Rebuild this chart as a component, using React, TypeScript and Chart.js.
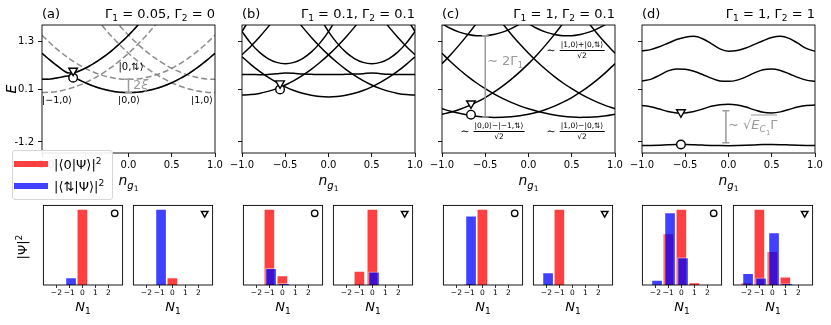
import React, { useEffect, useRef } from "react";
import { Chart, registerables } from "chart.js";

Chart.register(...registerables);

const FONT = "'DejaVu Sans', sans-serif";
Chart.defaults.font.family = FONT;

const _ = null;

// ---------- axes ----------
const X_TICKS = [-1, -0.5, 0, 0.5, 1];
const E_TICKS = [-1.2, 0.1, 1.3];
const E_MIN = -1.474;
const E_MAX = 1.713;
const N1_TICKS = [-2, -1, 0, 1, 2];
const N1_MIN = -3;
const N1_MAX = 3.1;

// ---------- n_g1 grids ----------
const NG = [-1, -0.9, -0.8, -0.7, -0.6, -0.5, -0.4, -0.3, -0.2, -0.1, 0, 0.1, 0.2, 0.3, 0.4, 0.5, 0.6, 0.7, 0.8, 0.9, 1];
const NG_A = [-1, -0.9, -0.8, -0.7, -0.66, -0.6, -0.5, -0.4, -0.3, -0.2, -0.1, 0, 0.1, 0.2, 0.3, 0.4, 0.5, 0.6, 0.7, 0.8, 0.9, 1];

// ---------- panel (a) ----------
const A_LOW = [0.36, 0.371, 0.404, 0.445, 0.43, 0.375, 0.275, 0.187, 0.118, 0.069, 0.04, 0.03, 0.04, 0.069, 0.118, 0.187, 0.275, 0.383, 0.51, 0.657, 0.824, 1.01];
const A_HIGH = [1.01, 0.824, 0.657, 0.525, 0.52, 0.545, 0.635, 0.756, 0.899, 1.064, 1.251, 1.46, 1.691, 1.944, _, _, _, _, _, _, _, _];
const A_M1_0 = [0.03, 0.04, 0.069, 0.118, 0.143, 0.187, 0.275, 0.383, 0.51, 0.657, 0.824, 1.01, 1.216, 1.441, 1.686, 1.951, 2.235, _, _, _, _, _];
const A_0_0 = [1.01, 0.824, 0.657, 0.51, 0.457, 0.383, 0.275, 0.187, 0.118, 0.069, 0.04, 0.03, 0.04, 0.069, 0.118, 0.187, 0.275, 0.383, 0.51, 0.657, 0.824, 1.01];
const A_P1_0 = [_, _, _, _, _, _, 2.235, 1.951, 1.686, 1.441, 1.216, 1.01, 0.824, 0.657, 0.51, 0.383, 0.275, 0.187, 0.118, 0.069, 0.04, 0.03];
const A_M1_U = [0.36, 0.371, 0.404, 0.459, 0.487, 0.536, 0.635, 0.756, 0.899, 1.064, 1.251, 1.46, 1.691, 1.944, 2.219, _, _, _, _, _, _, _];
const A_0_U = [1.46, 1.251, 1.064, 0.899, 0.839, 0.756, 0.635, 0.536, 0.459, 0.404, 0.371, 0.36, 0.371, 0.404, 0.459, 0.536, 0.635, 0.756, 0.899, 1.064, 1.251, 1.46];
const A_P1_U = [_, _, _, _, _, _, _, _, 2.219, 1.944, 1.691, 1.46, 1.251, 1.064, 0.899, 0.756, 0.635, 0.536, 0.459, 0.404, 0.371, 0.36];

// ---------- panel (b) ----------
const B_PM2 = [0.97, 1.18, 1.41, 1.66, 1.93, 2.22, _, _, _, _, _, _, _, _, _, _, _, _, _, _, _];
const B_PM1 = [-0.03, -0.02, 0.01, 0.06, 0.13, 0.22, 0.33, 0.46, 0.61, 0.78, 0.97, 1.18, 1.41, 1.66, 1.93, 2.22, _, _, _, _, _];
const B_P0 = [0.923, 0.733, 0.563, 0.413, 0.283, 0.173, 0.083, 0.013, -0.037, -0.067, -0.077, -0.067, -0.037, 0.013, 0.083, 0.173, 0.283, 0.413, 0.563, 0.733, 0.923];
const B_P1 = [_, _, _, _, _, 2.22, 1.93, 1.66, 1.41, 1.18, 0.97, 0.78, 0.61, 0.46, 0.33, 0.22, 0.13, 0.06, 0.01, -0.02, -0.03];
const B_P2 = [_, _, _, _, _, _, _, _, _, _, _, _, _, _, _, 2.22, 1.93, 1.66, 1.41, 1.18, 0.97];
const B_SM15 = [1.55, 1.902, _, _, _, _, _, _, _, _, _, _, _, _, _, _, _, _, _, _, _];
const B_SM05 = [1.55, 1.262, 1.038, 0.878, 0.782, 0.75, 0.782, 0.878, 1.038, 1.262, 1.55, 1.902, _, _, _, _, _, _, _, _, _];
const B_SP05 = [_, _, _, _, _, _, _, _, _, 1.902, 1.55, 1.262, 1.038, 0.878, 0.782, 0.75, 0.782, 0.878, 1.038, 1.262, 1.55];
const B_SP15 = [_, _, _, _, _, _, _, _, _, _, _, _, _, _, _, _, _, _, _, 1.902, 1.55];
const B_FLAT = [0.48, 0.48, 0.475, 0.48, 0.5, 0.52, 0.51, 0.49, 0.485, 0.48, 0.48, 0.48, 0.485, 0.49, 0.5, 0.52, 0.5, 0.485, 0.48, 0.48, 0.48];

// ---------- panel (c) ----------
const C_BM2 = [0.751, 0.975, 1.218, 1.479, 1.76, 2.06, _, _, _, _, _, _, _, _, _, _, _, _, _, _, _];
const C_BM1 = [-0.51, -0.458, -0.391, -0.308, -0.209, -0.093, 0.04, 0.191, 0.36, 0.546, 0.751, 0.975, 1.218, 1.479, 1.76, 2.06, _, _, _, _, _];
const C_B0 = [-0.373, -0.435, -0.485, -0.526, -0.557, -0.577, -0.587, -0.586, -0.574, -0.549, -0.51, -0.458, -0.391, -0.308, -0.209, -0.093, 0.04, 0.191, 0.36, 0.546, 0.751];
const C_B1 = [1.009, 0.798, 0.605, 0.429, 0.269, 0.126, -0.002, -0.115, -0.214, -0.3, -0.373, -0.435, -0.485, -0.526, -0.557, -0.577, -0.587, -0.586, -0.574, -0.549, -0.51];
const C_B2 = [_, _, _, _, _, _, 2.03, 1.75, 1.485, 1.238, 1.009, 0.798, 0.605, 0.429, 0.269, 0.126, -0.002, -0.115, -0.214, -0.3, -0.373];
const C_B3 = [_, _, _, _, _, _, _, _, _, _, _, _, _, _, _, _, 2.03, 1.75, 1.485, 1.238, 1.009];
const C_A0 = [1.743, 1.625, 1.535, 1.476, 1.447, 1.447, 1.477, 1.536, 1.624, 1.739, 1.88, _, _, _, _, _, _, _, _, _, _];
const C_A1 = [_, _, _, _, _, _, _, _, _, _, 1.743, 1.625, 1.535, 1.476, 1.447, 1.447, 1.477, 1.536, 1.624, 1.739, 1.88];

// ---------- panel (d) ----------
const D_1 = [-1.29, -1.285, -1.278, -1.268, -1.262, -1.262, -1.268, -1.277, -1.285, -1.29, -1.292, -1.29, -1.284, -1.275, -1.265, -1.262, -1.266, -1.274, -1.282, -1.288, -1.29];
const D_2 = [-0.29, -0.32, -0.38, -0.44, -0.475, -0.475, -0.44, -0.38, -0.31, -0.27, -0.26, -0.28, -0.33, -0.4, -0.46, -0.475, -0.45, -0.39, -0.33, -0.29, -0.28];
const D_3 = [0.32, 0.36, 0.46, 0.57, 0.62, 0.61, 0.56, 0.48, 0.39, 0.32, 0.31, 0.34, 0.42, 0.52, 0.6, 0.615, 0.58, 0.5, 0.41, 0.34, 0.31];
const D_4 = [1.07, 1.1, 1.17, 1.26, 1.35, 1.41, 1.43, 1.37, 1.25, 1.12, 1.06, 1.08, 1.14, 1.23, 1.32, 1.4, 1.43, 1.38, 1.26, 1.13, 1.06];

// ---------- marked states (circle / triangle) ----------
const MARK_N = [-0.64, -0.56, -0.665, -0.55];
const MARK_CIRCLE = [0.4, 0.11, -0.52, -1.262];
const MARK_TRIANGLE = [0.575, 0.26, -0.24, -0.46];

// ---------- gray annotation bars ----------
const ERR_A = { n: 0, lo: 0.03, hi: 0.36 };
const ERR_C = { n: -0.5, lo: -0.577, hi: 1.447 };
const ERR_D = { n: -0.03, lo: -1.22, hi: -0.42 };

// ---------- titles ----------
const PANEL_TAGS = ["(a)", "(b)", "(c)", "(d)"];
const GAMMA1 = ["0.05", "0.1", "1", "1"];
const GAMMA2 = ["0", "0.1", "0.1", "1"];

// ---------- histogram data (N1 = -2..2) ----------
const N1 = [-2, -1, 0, 1, 2];
const BLUE_SHIFT = 0.13;
const RED_A_CIRC = [0, 0, 0.91, 0, 0];
const BLUE_A_CIRC = [0, 0.09, 0, 0, 0];
const RED_A_TRI = [0, 0, 0.09, 0, 0];
const BLUE_A_TRI = [0, 0.91, 0, 0, 0];
const RED_B_CIRC = [0, 0.733, 0.091, 0, 0];
const BLUE_B_CIRC = [0, 0.161, 0.015, 0, 0];
const RED_B_TRI = [0, 0.135, 0.736, 0, 0];
const BLUE_B_TRI = [0, 0, 0.129, 0, 0];
const RED_C_CIRC = [0, 0.005, 0.52, 0, 0];
const BLUE_C_CIRC = [0, 0.475, 0, 0, 0];
const RED_C_TRI = [0, 0.86, 0, 0, 0];
const BLUE_C_TRI = [0.14, 0, 0, 0, 0];
const RED_D_CIRC = [0, 0.22, 0.324, 0.01, 0];
const BLUE_D_CIRC = [0.021, 0.31, 0.117, 0, 0];
const RED_D_TRI = [0.012, 0.394, 0.175, 0.042, 0];
const BLUE_D_TRI = [0.061, 0.037, 0.272, 0.007, 0];

// ---------- layout ----------
const TOP_L = [42, 242, 442, 642];
const TOP_T = 23;
const TOP_W = 173;
const TOP_H = 130;
const YW = 40, PT = 8, PR = 14, XH = 22;
const BAR_L = [42, 132, 242, 332, 442, 532, 641, 732];
const BAR_T = 204;
const BAR_W = 82;
const BAR_H = 81;
const BP = 4, BXH = 20;

const TOP_PANELS = [
  { grid: NG_A, black: [A_LOW, A_HIGH], dashed: [A_M1_0, A_0_0, A_P1_0, A_M1_U, A_0_U, A_P1_U], err: ERR_A },
  { grid: NG, black: [B_PM2, B_PM1, B_P0, B_P1, B_P2, B_SM15, B_SM05, B_SP05, B_SP15, B_FLAT], dashed: [], err: null },
  { grid: NG, black: [C_BM2, C_BM1, C_B0, C_B1, C_B2, C_B3, C_A0, C_A1], dashed: [], err: ERR_C },
  { grid: NG, black: [D_1, D_2, D_3, D_4], dashed: [], err: ERR_D },
];

const BAR_PANELS = [
  { red: RED_A_CIRC, blue: BLUE_A_CIRC, mark: "circle" },
  { red: RED_A_TRI, blue: BLUE_A_TRI, mark: "triangle" },
  { red: RED_B_CIRC, blue: BLUE_B_CIRC, mark: "circle" },
  { red: RED_B_TRI, blue: BLUE_B_TRI, mark: "triangle" },
  { red: RED_C_CIRC, blue: BLUE_C_CIRC, mark: "circle" },
  { red: RED_C_TRI, blue: BLUE_C_TRI, mark: "triangle" },
  { red: RED_D_CIRC, blue: BLUE_D_CIRC, mark: "circle" },
  { red: RED_D_TRI, blue: BLUE_D_TRI, mark: "triangle" },
];

const minus = (s: string) => s.replace("-", "\u2212");

const framePlugin = {
  id: "frame",
  afterDraw(chart: any) {
    const { ctx, chartArea: a } = chart;
    ctx.save();
    ctx.strokeStyle = "#000";
    ctx.lineWidth = 0.9;
    ctx.strokeRect(a.left, a.top, a.right - a.left, a.bottom - a.top);
    ctx.restore();
  },
};

function errPlugin(bar: any) {
  return {
    id: "errbar",
    afterDatasetsDraw(chart: any) {
      if (!bar) return;
      const { ctx, scales } = chart;
      const px = scales.x.getPixelForValue(bar.n);
      const p0 = scales.y.getPixelForValue(bar.lo);
      const p1 = scales.y.getPixelForValue(bar.hi);
      ctx.save();
      ctx.strokeStyle = "#9a9a9a";
      ctx.lineWidth = 1.5;
      ctx.beginPath();
      ctx.moveTo(px, p0); ctx.lineTo(px, p1);
      ctx.moveTo(px - 3.5, p0); ctx.lineTo(px + 3.5, p0);
      ctx.moveTo(px - 3.5, p1); ctx.lineTo(px + 3.5, p1);
      ctx.stroke();
      ctx.restore();
    },
  };
}

function markerSet(x: number, y: number, style: string, r: number) {
  return {
    type: "line",
    data: [{ x, y }],
    showLine: false,
    pointStyle: style,
    pointRotation: style === "triangle" ? 180 : 0,
    pointRadius: r,
    pointBackgroundColor: "#fff",
    pointBorderColor: "#000",
    pointBorderWidth: 1.4,
  };
}

function topConfig(p: any, idx: number) {
  const pts = (arr: any[]) => p.grid.map((x: number, i: number) => ({ x, y: arr[i] }));
  const datasets: any[] = [
    markerSet(MARK_N[idx], MARK_TRIANGLE[idx], "triangle", 5),
    markerSet(MARK_N[idx], MARK_CIRCLE[idx], "circle", 4.3),
    ...p.black.map((arr: any[]) => ({
      data: pts(arr), borderColor: "#000", borderWidth: 1.5, pointRadius: 0,
      cubicInterpolationMode: "monotone", fill: false,
    })),
    ...p.dashed.map((arr: any[]) => ({
      data: pts(arr), borderColor: "rgba(128,128,128,0.9)", borderWidth: 1.5, borderDash: [6, 3],
      pointRadius: 0, cubicInterpolationMode: "monotone", fill: false,
    })),
  ];
  return {
    type: "line",
    data: { datasets },
    options: {
      animation: false,
      responsive: false,
      events: [],
      layout: { padding: { left: 0, right: PR, top: PT, bottom: 0 } },
      plugins: { legend: { display: false }, tooltip: { enabled: false } },
      scales: {
        x: {
          type: "linear", min: -1, max: 1,
          afterBuildTicks: (s: any) => { s.ticks = X_TICKS.map((v) => ({ value: v })); },
          afterFit: (s: any) => { s.height = XH; },
          ticks: {
            autoSkip: false, maxRotation: 0, padding: 2, color: "#000", font: { size: 10 },
            callback: (v: number) => minus(v.toFixed(1)),
          },
          grid: { drawOnChartArea: false, tickLength: 4, color: "#000", tickWidth: 0.9 },
          border: { display: false },
        },
        y: {
          type: "linear", min: E_MIN, max: E_MAX,
          afterBuildTicks: (s: any) => { s.ticks = E_TICKS.map((v) => ({ value: v })); },
          afterFit: (s: any) => { s.width = YW; },
          ticks: {
            autoSkip: false, padding: 4, color: "#000", font: { size: 10 },
            callback: (v: number) => (idx === 0 ? v.toFixed(1) : ""),
          },
          grid: { drawOnChartArea: false, tickLength: 4, color: "#000", tickWidth: 0.9 },
          border: { display: false },
        },
      },
    },
    plugins: [framePlugin, errPlugin(p.err)],
  };
}

function barConfig(p: any) {
  const ymax = 1.05 * Math.max(...p.red, ...p.blue);
  const datasets: any[] = [
    markerSet(N1_MIN + 0.9 * (N1_MAX - N1_MIN), 0.9 * ymax, p.mark, p.mark === "circle" ? 3.2 : 3.8),
    {
      type: "bar",
      data: N1.map((n, i) => ({ x: n + BLUE_SHIFT, y: p.blue[i] || null })),
      backgroundColor: "rgba(0,0,255,0.75)",
      borderColor: "rgba(255,255,255,0.45)",
      borderWidth: 1,
      barThickness: 11,
      grouped: false,
    },
    {
      type: "bar",
      data: N1.map((n, i) => ({ x: n, y: p.red[i] || null })),
      backgroundColor: "rgba(255,0,0,0.75)",
      borderColor: "rgba(255,255,255,0.45)",
      borderWidth: 1,
      barThickness: 11,
      grouped: false,
    },
  ];
  return {
    type: "bar",
    data: { datasets },
    options: {
      animation: false,
      responsive: false,
      events: [],
      layout: { padding: { left: BP, right: BP, top: BP, bottom: 0 } },
      plugins: { legend: { display: false }, tooltip: { enabled: false } },
      scales: {
        x: {
          type: "linear", min: N1_MIN, max: N1_MAX, offset: false,
          afterBuildTicks: (s: any) => { s.ticks = N1_TICKS.map((v) => ({ value: v })); },
          afterFit: (s: any) => { s.height = BXH; },
          ticks: {
            autoSkip: false, maxRotation: 0, padding: 1, color: "#000", font: { size: 7.5 },
            callback: (v: number) => minus(String(v)),
          },
          grid: { drawOnChartArea: false, tickLength: 3, color: "#000", tickWidth: 0.8, offset: false },
          border: { display: false },
        },
        y: { display: false, min: 0, max: ymax },
      },
    },
    plugins: [framePlugin],
  };
}

function ChartBox({ left, top, width, height, make }: any) {
  const ref = useRef<HTMLCanvasElement>(null);
  useEffect(() => {
    const chart = new Chart(ref.current as HTMLCanvasElement, make());
    return () => chart.destroy();
  }, []);
  return (
    <canvas ref={ref} width={width} height={height}
      style={{ position: "absolute", left, top, width, height }} />
  );
}

function Txt({ x, y, a = "c", size = 13, color = "#000", rot = false, italic = false, children }: any) {
  const tx = a === "l" ? "0" : a === "c" ? "-50%" : "-100%";
  return (
    <div style={{
      position: "absolute", left: x, top: y,
      transform: `translate(${tx},-50%)${rot ? " rotate(-90deg)" : ""}`,
      fontSize: size, color, lineHeight: 1, whiteSpace: "nowrap",
      fontStyle: italic ? "italic" : "normal", fontFamily: FONT,
    }}>{children}</div>
  );
}

const Sub = ({ children, s = 0.7 }: any) => (
  <span style={{ fontSize: `${s}em`, position: "relative", top: "0.35em", lineHeight: 0 }}>{children}</span>
);
const Sup = ({ children, s = 0.7 }: any) => (
  <span style={{ fontSize: `${s}em`, position: "relative", top: "-0.5em", lineHeight: 0 }}>{children}</span>
);

function Frac({ cx, cy, num }: any) {
  return (
    <div style={{
      position: "absolute", left: cx, top: cy, transform: "translate(-50%,-50%)",
      display: "flex", flexDirection: "column", alignItems: "center",
      fontSize: 7.5, lineHeight: 1, fontFamily: FONT, whiteSpace: "nowrap",
    }}>
      <span style={{ padding: "0 1px 1px" }}>{num}</span>
      <span style={{ borderTop: "0.8px solid #000", alignSelf: "stretch", textAlign: "center", paddingTop: 1 }}>
        √<span style={{ borderTop: "0.6px solid #000" }}>2</span>
      </span>
    </div>
  );
}

export default function App() {
  const GRAY = "#9a9a9a";
  return (
    <div style={{
      position: "fixed", left: 0, top: 0, width: 831, height: 325, background: "#fff",
      overflow: "hidden", fontFamily: FONT, color: "#000",
    }}>
      {TOP_PANELS.map((p, i) => (
        <ChartBox key={"t" + i} left={TOP_L[i] - YW} top={TOP_T - PT}
          width={YW + TOP_W + PR} height={PT + TOP_H + XH} make={() => topConfig(p, i)} />
      ))}
      {BAR_PANELS.map((p, j) => (
        <ChartBox key={"b" + j} left={BAR_L[j] - BP} top={BAR_T - BP}
          width={BP + BAR_W + BP} height={BP + BAR_H + BXH} make={() => barConfig(p)} />
      ))}

      {/* titles */}
      {PANEL_TAGS.map((s, i) => (
        <Txt key={"tag" + i} x={TOP_L[i]} y={13} a="l" size={13}>{s}</Txt>
      ))}
      {GAMMA1.map((g, i) => (
        <Txt key={"gam" + i} x={TOP_L[i] + TOP_W} y={13} a="r" size={13}>
          Γ<Sub>1</Sub> = {g}, Γ<Sub>2</Sub> = {GAMMA2[i]}
        </Txt>
      ))}

      {/* axis labels */}
      {TOP_L.map((l, i) => (
        <Txt key={"xl" + i} x={l + TOP_W / 2} y={180} size={14}>
          <i>n</i><Sub s={0.72}><i>g</i><Sub s={0.75}>1</Sub></Sub>
        </Txt>
      ))}
      <Txt x={11} y={89} size={14} rot italic>E</Txt>
      {BAR_L.map((l, j) => (
        <Txt key={"nl" + j} x={l + BAR_W / 2} y={306} size={13}>
          <i>N</i><Sub>1</Sub>
        </Txt>
      ))}
      <Txt x={22} y={247} size={13} rot>|Ψ|<Sup>2</Sup></Txt>

      {/* panel (a) annotations */}
      <Txt x={131} y={67} size={10}>|0,⇅⟩</Txt>
      <Txt x={42} y={100} a="l" size={9.5}>|−1,0⟩</Txt>
      <Txt x={129} y={100} size={9.5}>|0,0⟩</Txt>
      <Txt x={213} y={100} a="r" size={9.5}>|1,0⟩</Txt>
      <Txt x={133} y={84} a="l" size={13} color={GRAY}>2<i>ξ</i></Txt>

      {/* panel (c) annotations */}
      <Txt x={487} y={60} a="l" size={13} color={GRAY}>∼ 2Γ<Sub>1</Sub></Txt>
      <Txt x={551} y={50} size={11}>∼</Txt>
      <Frac cx={582} cy={50} num="|1,0⟩+|0,⇅⟩" />
      <Txt x={465} y={131} size={11}>∼</Txt>
      <Frac cx={499} cy={131} num="|0,0⟩−|−1,⇅⟩" />
      <Txt x={551} y={131} size={11}>∼</Txt>
      <Frac cx={582} cy={131} num="|1,0⟩−|0,⇅⟩" />

      {/* panel (d) annotation */}
      <Txt x={728} y={124} a="l" size={13} color={GRAY}>
        ∼ √<span style={{ borderTop: `1px solid ${GRAY}`, paddingTop: 1 }}>
          <i>E</i><Sub><i>C</i><Sub s={0.75}>1</Sub></Sub>Γ
        </span>
      </Txt>

      {/* legend */}
      <div style={{
        position: "absolute", left: 12, top: 150, width: 101, height: 50, boxSizing: "border-box",
        background: "rgba(255,255,255,0.9)", border: "1px solid #d6d6d6", borderRadius: 3,
      }}>
        <div style={{ position: "absolute", left: 1, top: 10, width: 34, height: 6, background: "rgba(255,0,0,0.75)" }} />
        <div style={{ position: "absolute", left: 1, top: 32, width: 34, height: 6, background: "rgba(0,0,255,0.75)" }} />
      </div>
      <Txt x={54} y={164} a="l" size={13}>|⟨0|Ψ⟩|<Sup>2</Sup></Txt>
      <Txt x={54} y={186} a="l" size={13}>|⟨⇅|Ψ⟩|<Sup>2</Sup></Txt>

      {/* bar-panel markers are drawn in the charts */}
    </div>
  );
}
